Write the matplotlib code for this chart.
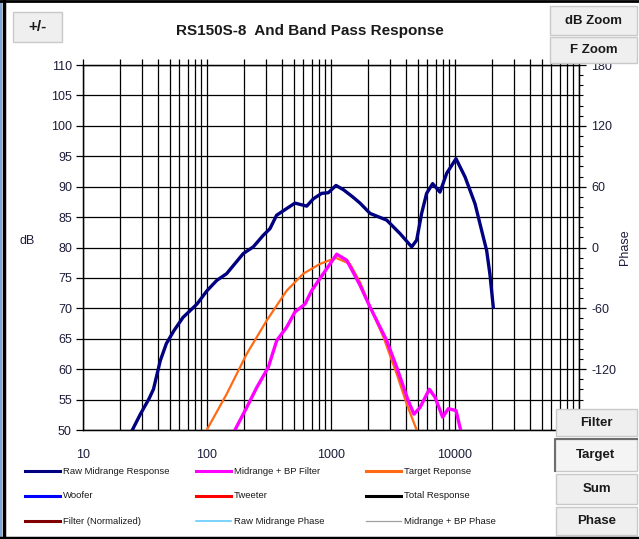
"""
RS150S-8 midrange response with band pass filter and target curve.
"""

import matplotlib
matplotlib.use("Agg")
import matplotlib.pyplot as plt
from matplotlib.patches import Rectangle
from matplotlib.lines import Line2D
from matplotlib.ticker import FixedLocator, FixedFormatter, NullFormatter

plt.rcParams["font.family"] = ["Liberation Sans", "DejaVu Sans"]
plt.rcParams["axes.unicode_minus"] = False

# --- data ---
raw_freq = [25, 29, 34, 37, 42, 47, 54, 64, 83, 100, 120, 144, 196, 236, 284, 322,
            364, 439, 512, 637, 720, 841, 951, 1097, 1259, 1500, 1714, 2066, 2814,
            3598, 4474, 4906, 5381, 5903, 6602, 7567, 8570, 10190, 12050, 14500,
            16400, 18000, 19100, 20360]
raw_db = [50.0, 52.6, 55.1, 56.7, 61.4, 64.2, 66.3, 68.5, 70.7, 72.9, 74.6, 75.7,
          79.0, 80.1, 82.0, 83.1, 85.3, 86.4, 87.3, 86.8, 88.0, 88.9, 89.0, 90.2,
          89.5, 88.3, 87.3, 85.6, 84.5, 82.3, 80.1, 81.2, 85.6, 88.9, 90.5, 89.1,
          92.2, 94.6, 91.6, 87.2, 82.8, 79.5, 75.7, 70.2]

bp_freq = [168, 209, 252, 312, 365, 439, 512, 617, 698, 867, 982, 1112, 1340, 1714,
           2066, 2814, 3390, 4200, 4667, 5220, 6210, 6900, 7950, 8830, 10190, 11100]
bp_db = [50.0, 53.7, 57.0, 60.3, 64.7, 66.9, 69.4, 70.7, 72.9, 75.7, 77.3, 78.9,
         77.9, 73.8, 70.2, 64.7, 60.3, 54.8, 52.6, 53.7, 56.7, 55.4, 52.1, 53.5,
         53.2, 50.0]

target_freq = [99.5, 144, 209, 303, 439, 598, 815, 1097, 1422, 1714, 2066, 2644,
               3390, 4075, 4906]
target_db = [50.0, 55.9, 62.5, 68.0, 72.9, 75.7, 77.3, 78.3, 77.3, 74.3, 70.2,
             65.3, 59.2, 54.3, 50.0]

x_labels = ["10", "100", "1000", "10000", ""]
phase_labels = ["", "-120", "-60", "0", "60", "120", "180"]
legend_rows = [
    [("Raw Midrange Response", "#000080", 2.2), ("Midrange + BP Filter", "#FF00FF", 2.2),
     ("Target Reponse", "#FF6A13", 2.2)],
    [("Woofer", "#0000FF", 2.2), ("Tweeter", "#FF0000", 2.2),
     ("Total Response", "#000000", 2.2)],
    [("Filter (Normalized)", "#800000", 2.2), ("Raw Midrange Phase", "#66CCFF", 1.2),
     ("Midrange + BP Phase", "#A0A0A0", 0.9)],
]

W, H = 639, 539
fig = plt.figure(figsize=(W / 100, H / 100), dpi=100)
fig.patch.set_facecolor("white")


def fx(px):
    return px / W


def fy(py):
    return 1 - py / H


label_color = "#1C1C3A"

ax = fig.add_axes([fx(83), fy(430), fx(579) - fx(83), fy(65) - fy(430)])
ax.set_xscale("log")
ax.set_xlim(10, 100000)
ax.set_ylim(50, 110)

ax.xaxis.set_major_locator(FixedLocator([10, 100, 1000, 10000, 100000]))
ax.xaxis.set_major_formatter(FixedFormatter(x_labels))
minors = [m * 10 ** d for d in range(1, 5) for m in range(2, 10)]
ax.xaxis.set_minor_locator(FixedLocator(minors))
ax.xaxis.set_minor_formatter(NullFormatter())
ax.set_yticks(range(50, 111, 5))

ax.grid(True, which="both", color="black", linewidth=0.9)
ax.tick_params(axis="x", which="both", bottom=False, top=True, direction="out",
               length=4, width=0.9, labelsize=9, labelcolor=label_color, pad=10)
ax.tick_params(axis="y", direction="out", length=5, width=0.9, labelsize=9,
               labelcolor=label_color, pad=3)
for s in ax.spines.values():
    s.set_linewidth(1.0)

ax.plot(target_freq, target_db, color="#FF6A13", linewidth=1.6, zorder=3)
ax.plot(bp_freq, bp_db, color="#FF00FF", linewidth=2.4, zorder=4)
ax.plot(raw_freq, raw_db, color="#000080", linewidth=2.4, zorder=5)
ax.set_ylabel("dB", rotation=0, fontsize=9, color=label_color)
ax.yaxis.set_label_coords(-0.112, 0.5)

ax2 = ax.twinx()
ax2.set_ylim(-180, 180)
ax2.yaxis.set_major_locator(FixedLocator(list(range(-180, 181, 60))))
ax2.yaxis.set_major_formatter(FixedFormatter(phase_labels))
ax2.set_yticks(range(-180, 181, 10), minor=True)
ax2.tick_params(axis="y", which="major", direction="out", length=5, width=0.9,
                labelsize=9, labelcolor=label_color, pad=4)
ax2.tick_params(axis="y", which="minor", direction="out", length=3, width=0.8)
ax2.set_ylabel("Phase", fontsize=9, color=label_color, labelpad=2)

fig.text(fx(310), fy(31), "RS150S-8  And Band Pass Response", ha="center",
         va="center", fontsize=11, fontweight="bold", color="#1A1A1A")

# legend drawn by hand in three columns
col_x = [25, 196, 366]
row_y = [471, 496, 521]
for r, row in enumerate(legend_rows):
    for c, (name, color, lw) in enumerate(row):
        x0 = col_x[c]
        fig.add_artist(Line2D([fx(x0), fx(x0 + 35)], [fy(row_y[r])] * 2,
                              color=color, linewidth=lw))
        fig.text(fx(x0 + 38), fy(row_y[r]), name, ha="left", va="center",
                 fontsize=6.8, color="#1A1A1A")


def button(x0, y0, x1, y1, label, size=9.5, pressed=False):
    fig.add_artist(Rectangle((fx(x0), fy(y1)), fx(x1) - fx(x0), fy(y0) - fy(y1),
                             facecolor="#EFEFEF" if not pressed else "#F4F4F4",
                             edgecolor="#C9C9C9", linewidth=1.0, zorder=10))
    if pressed:
        fig.add_artist(Line2D([fx(x0), fx(x0), fx(x1)], [fy(y1), fy(y0), fy(y0)],
                              color="#6E6E6E", linewidth=1.5, zorder=11))
    fig.text(fx((x0 + x1) / 2), fy((y0 + y1) / 2), label, ha="center", va="center",
             fontsize=size, fontweight="bold", color="#1A1A1A", zorder=12)


button(13, 12, 62, 42, "+/-", size=11)
button(550, 6, 637, 35, "dB Zoom")
button(550, 37, 637, 63, "F Zoom")
button(556, 409, 637, 436, "Filter")
button(555, 439, 637, 471, "Target", pressed=True)
button(556, 474, 637, 504, "Sum")
button(556, 507, 637, 535, "Phase")

# window frame
fig.add_artist(Line2D([fx(1), fx(1)], [0, 1], color="#7FA7D9", linewidth=1.5, zorder=20))
fig.add_artist(Line2D([fx(4), fx(4)], [0, 1], color="black", linewidth=2.5, zorder=20))
fig.add_artist(Line2D([0, 1], [fy(1), fy(1)], color="black", linewidth=2.0, zorder=20))
fig.add_artist(Line2D([0, 1], [fy(538), fy(538)], color="black", linewidth=2.5, zorder=20))

fig.savefig("out.png", dpi=100)
